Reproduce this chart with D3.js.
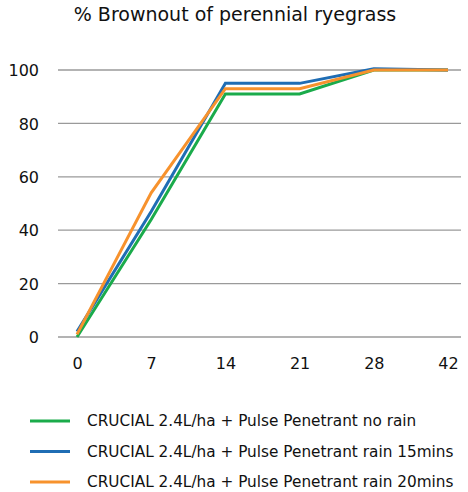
<!DOCTYPE html>
<html>
<head>
<meta charset="utf-8">
<script src="https://cdn.jsdelivr.net/npm/d3@7"></script>
<style>
  body { margin: 0; background: #fff; }
  svg text { font-family: "DejaVu Sans", sans-serif; fill: #111; }
</style>
</head>
<body>
<svg></svg>
<script>
const days = ["0", "7", "14", "21", "28", "42"];
const yTicks = [0, 20, 40, 60, 80, 100];
const noRain = [0, 44, 91, 91, 100, 100];
const rain15 = [2, 47, 95, 95, 100.5, 100];
const rain20 = [1, 54, 93, 93, 100, 100];
const seriesNames = [
	"CRUCIAL 2.4L/ha + Pulse Penetrant no rain",
	"CRUCIAL 2.4L/ha + Pulse Penetrant rain 15mins",
	"CRUCIAL 2.4L/ha + Pulse Penetrant rain 20mins"
];
const colors = ["#1aab4b", "#1f6db4", "#f7922d"];

const series = [noRain, rain15, rain20].map((values, i) => ({
	name: seriesNames[i],
	color: colors[i],
	values: values
}));

const svg = d3.select("svg").attr("width", 468).attr("height", 492);

svg.append("text")
	.attr("x", 235)
	.attr("y", 21)
	.attr("text-anchor", "middle")
	.style("font-size", "19px")
	.text("% Brownout of perennial ryegrass");

const x = d3.scalePoint().domain(days).range([77, 448]);
const y = d3.scaleLinear().domain([0, 100]).range([337, 70]);

// gridlines
svg.append("g")
	.selectAll("line")
	.data(yTicks)
	.join("line")
	.attr("x1", 58)
	.attr("x2", 461)
	.attr("y1", (d) => y(d))
	.attr("y2", (d) => y(d))
	.attr("stroke", "#9a9a9a")
	.attr("stroke-width", 1.3);

const yAxis = d3.axisLeft(y).tickValues(yTicks).tickSize(0).tickPadding(0);
svg.append("g")
	.attr("transform", "translate(39, 0)")
	.call(yAxis)
	.call((g) => g.select(".domain").remove())
	.selectAll("text")
	.style("font-size", "16px")
	.attr("dy", "0.35em");

const xAxis = d3.axisBottom(x).tickSize(0).tickPadding(0);
svg.append("g")
	.attr("transform", "translate(0, 358)")
	.call(xAxis)
	.call((g) => g.select(".domain").remove())
	.selectAll("text")
	.style("font-size", "16px")
	.attr("dy", "0.71em");

const line = d3
	.line()
	.x((_, i) => x(days[i]))
	.y((d) => y(d));

svg.append("g")
	.selectAll("path")
	.data(series)
	.join("path")
	.attr("d", (d) => line(d.values))
	.attr("fill", "none")
	.attr("stroke", (d) => d.color)
	.attr("stroke-width", 3)
	.attr("stroke-linejoin", "miter");

// legend
const legend = svg.append("g")
	.selectAll("g")
	.data(series)
	.join("g")
	.attr("transform", (_, i) => `translate(0, ${421 + i * 30.5})`);
legend.append("line")
	.attr("x1", 30)
	.attr("x2", 70)
	.attr("stroke", (d) => d.color)
	.attr("stroke-width", 3);
legend.append("text")
	.attr("x", 87)
	.attr("dy", "0.35em")
	.style("font-size", "15.3px")
	.text((d) => d.name);
</script>
</body>
</html>
